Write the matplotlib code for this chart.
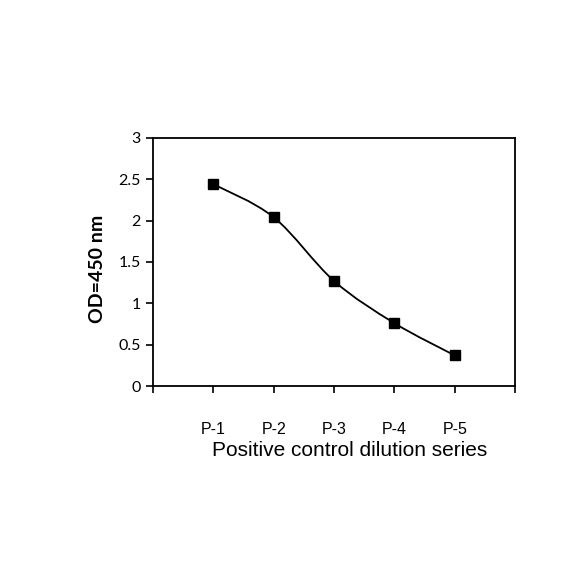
import matplotlib
matplotlib.use("Agg")
import matplotlib.pyplot as plt
from matplotlib.path import Path
from matplotlib.patches import PathPatch

# data
labels = ["P-1", "P-2", "P-3", "P-4", "P-5"]
od450 = [2.44, 2.04, 1.27, 0.76, 0.37]
xpos = [1, 2, 3, 4, 5]

fig = plt.figure(figsize=(5.84, 5.84), dpi=100)
ax = fig.add_axes([0.262, 0.339, 0.62, 0.425])

# smoothed line (Excel-like: cubic Bezier with Catmull-Rom control points)
pts = list(zip(xpos, od450))
verts = [pts[0]]
codes = [Path.MOVETO]
for i in range(len(pts) - 1):
    p0 = pts[i - 1] if i > 0 else pts[i]
    p1 = pts[i]
    p2 = pts[i + 1]
    p3 = pts[i + 2] if i + 2 < len(pts) else pts[i + 1]
    c1 = (p1[0] + (p2[0] - p0[0]) / 6, p1[1] + (p2[1] - p0[1]) / 6)
    c2 = (p2[0] - (p3[0] - p1[0]) / 6, p2[1] - (p3[1] - p1[1]) / 6)
    verts += [c1, c2, p2]
    codes += [Path.CURVE4] * 3
ax.add_patch(PathPatch(Path(verts, codes), facecolor="none", edgecolor="black", lw=1.3))
ax.plot(xpos, od450, ls="none", marker="s", ms=7, color="black")

ax.set_xlim(0, 6)
ax.set_ylim(0, 3)
ax.set_yticks([0, 0.5, 1, 1.5, 2, 2.5, 3])
ax.set_yticklabels(["0", "0.5", "1", "1.5", "2", "2.5", "3"], family="Lato", fontsize=11.5)
ax.set_xticks([0, 1, 2, 3, 4, 5, 6])
ax.set_xticklabels([""] + labels + [""], family="Liberation Sans", fontsize=11.5)
ax.tick_params(axis="both", direction="out", length=5, width=1.2, color="black")
ax.tick_params(axis="y", pad=4)
ax.tick_params(axis="x", pad=21)
for s in ax.spines.values():
    s.set_linewidth(1.3)

ax.set_ylabel("OD=450 nm", family="Lato", fontweight="bold", fontsize=14)
ax.yaxis.set_label_coords(-0.13, 0.47)
ax.set_xlabel("Positive control dilution series", family="Liberation Sans", fontsize=15, labelpad=4)
ax.xaxis.set_label_coords(0.544, -0.22)

fig.savefig("out.png", dpi=100)
